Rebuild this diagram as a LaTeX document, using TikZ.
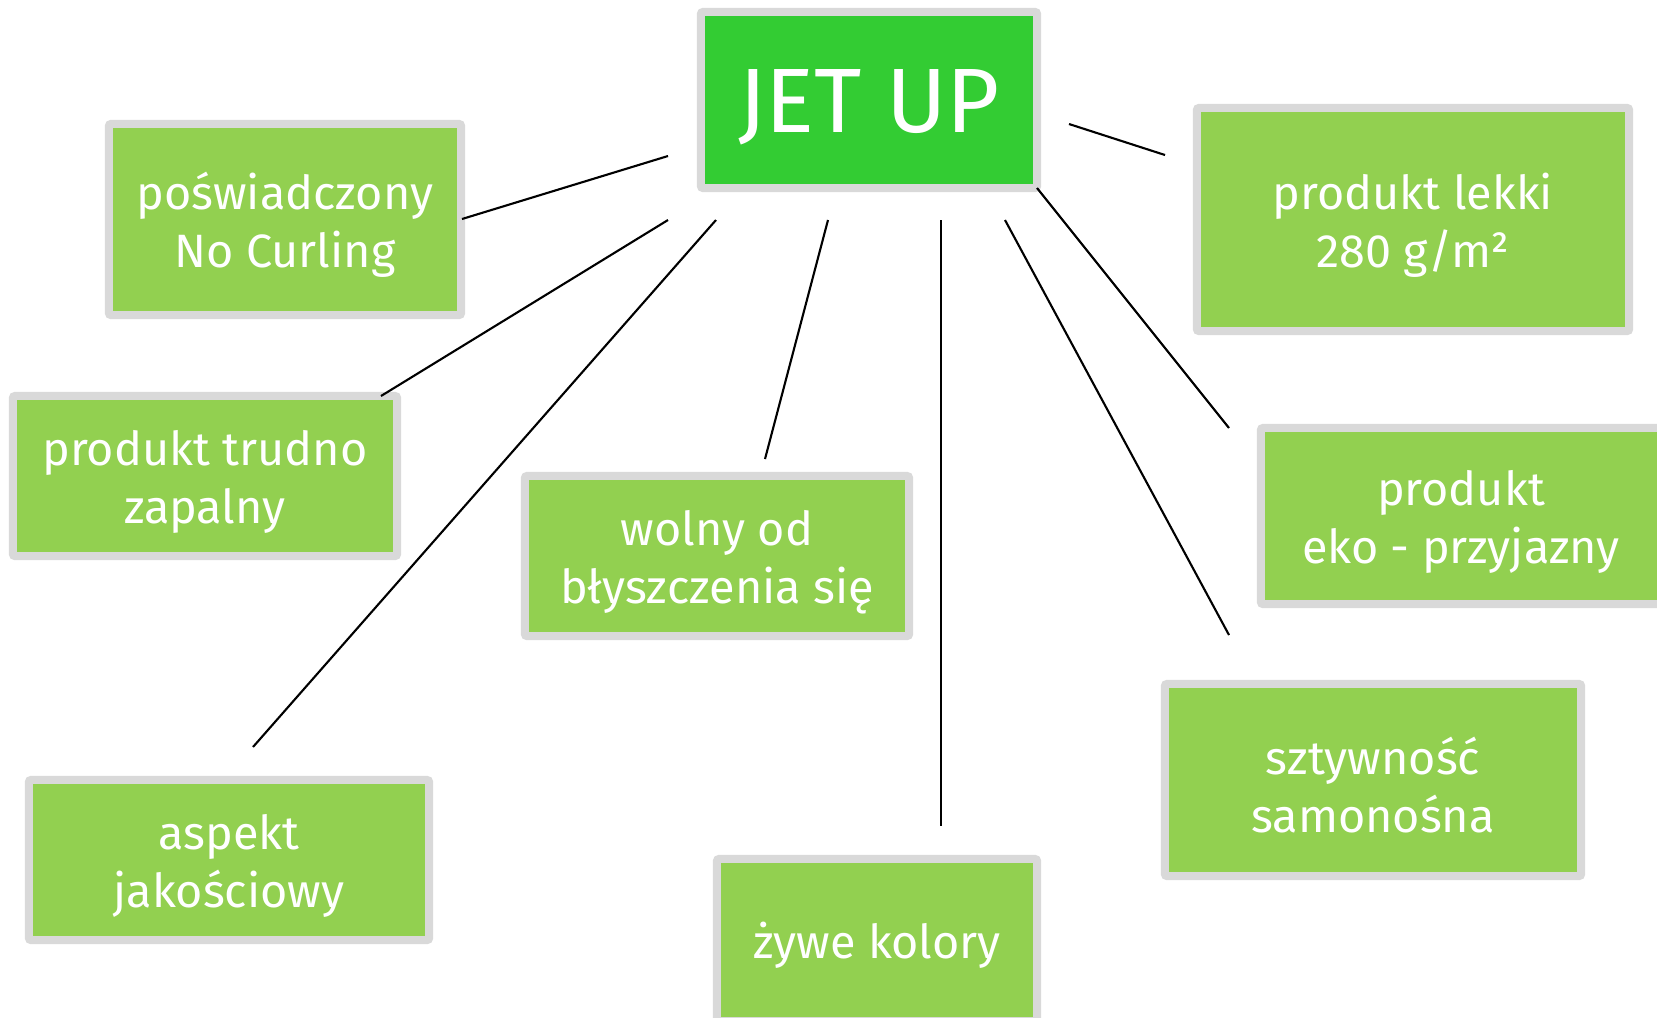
\documentclass[tikz,border=0pt]{standalone}
\usepackage{fontspec}
\setmainfont{Fira Sans}
\definecolor{MainGreen}{RGB}{51,204,51}
\definecolor{BoxGreen}{RGB}{146,208,80}
\definecolor{FrameGray}{RGB}{217,217,217}
\usepackage{tikz}
\newcommand{\boxlift}{\rule{0pt}{13.5pt}}
\tikzstyle{box} = [rectangle, draw=FrameGray, line width=0.08cm, fill=BoxGreen, text=white, align=center, inner sep=0pt, rounded corners=0.6pt, font=\fontsize{13.3}{16.5}\selectfont]
\tikzstyle{mainbox} = [box, fill=MainGreen, font=\fontsize{26}{30}\selectfont, execute at begin node={\rule{0pt}{22pt}}]
\tikzstyle{link} = [black, line width=0.6pt]

\begin{document}
\begin{tikzpicture}[x=0.01cm, y=-0.01cm]
            \clip (0,0) rectangle (1657,1017);
            \useasboundingbox (0,0) rectangle (1657,1017);

            % Centre
            \node[mainbox, minimum width=3.36cm, minimum height=1.76cm] (jet) at (869,100) {JET UP};

            % Left side
            \node[box, minimum width=3.52cm, minimum height=1.91cm] (cert) at (285,219.5) {\boxlift poświadczony\\No Curling};
            \node[box, minimum width=3.84cm, minimum height=1.60cm] (flame) at (205,476) {\boxlift produkt trudno\\zapalny};
            \node[box, minimum width=3.84cm, minimum height=1.60cm] (gloss) at (717,556) {\boxlift wolny od\\błyszczenia się};
            \node[box, minimum width=4.00cm, minimum height=1.60cm] (quality) at (229,860) {\boxlift aspekt\\jakościowy};
            \node[box, minimum width=3.20cm, minimum height=1.62cm] (colors) at (877,940) {\boxlift żywe kolory};

            % Right side
            \node[box, minimum width=4.32cm, minimum height=2.23cm] (light) at (1413,219.5) {\boxlift produkt lekki\\280 g/m²};
            \node[box, minimum width=4.00cm, minimum height=1.76cm] (eco) at (1461,516) {\boxlift produkt\\eko - przyjazny};
            \node[box, minimum width=4.16cm, minimum height=1.92cm] (stiff) at (1373,780) {\boxlift sztywność\\samonośna};

            % Line ends
            \coordinate (jCert) at (668,156);    \coordinate (eCert) at (462,219);
            \coordinate (jFlame) at (668,220);   \coordinate (eFlame) at (381,396);
            \coordinate (jQuality) at (716,220); \coordinate (eQuality) at (253,747);
            \coordinate (jGloss) at (828,220);   \coordinate (eGloss) at (765,459);
            \coordinate (jColors) at (941,220);  \coordinate (eColors) at (941,826);
            \coordinate (jStiff) at (1005,220);  \coordinate (eStiff) at (1229,635);
            \coordinate (jEco) at (1037,188);    \coordinate (eEco) at (1229,428);
            \coordinate (jLight) at (1069,124);  \coordinate (eLight) at (1165,155);

            \draw[link] (jCert) -- (eCert);
            \draw[link] (jFlame) -- (eFlame);
            \draw[link] (jQuality) -- (eQuality);
            \draw[link] (jGloss) -- (eGloss);
            \draw[link] (jColors) -- (eColors);
            \draw[link] (jStiff) -- (eStiff);
            \draw[link] (jEco) -- (eEco);
            \draw[link] (jLight) -- (eLight);
        \end{tikzpicture}
\end{document}
